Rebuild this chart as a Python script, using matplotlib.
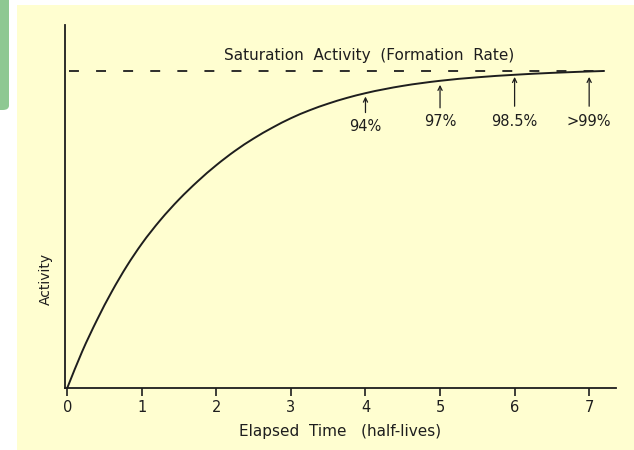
import numpy as np
import matplotlib.pyplot as plt
from matplotlib.patches import Rectangle, FancyBboxPatch, PathPatch
from matplotlib.path import Path

# curve (half-lives, fraction of saturation)
curve_t = [0, 0.2, 0.4, 0.6, 0.8, 1.0, 1.25, 1.5, 1.75, 2.0, 2.25, 2.5, 2.75,
           3.0, 3.25, 3.5, 3.75, 4.0, 4.5, 5.0, 5.5, 6.0, 6.5, 7.2]
curve_v = [0, 0.115, 0.215, 0.305, 0.385, 0.455, 0.53, 0.595, 0.652, 0.703, 0.748,
           0.787, 0.821, 0.851, 0.876, 0.897, 0.915, 0.930, 0.953, 0.969, 0.980,
           0.988, 0.994, 1.0]
saturation = 1.0

tick_pos = [0, 1, 2, 3, 4, 5, 6, 7]
tick_labels = ['0', '1', '2', '3', '4', '5', '6', '7']
mark_t = [4, 5, 6, 7]
mark_tip = [0.928, 0.965, 0.99, 0.99]
mark_tail = [0.86, 0.875, 0.88, 0.88]
mark_text = ['94%', '97%', '98.5%', '>99%']
mark_text_y = [0.825, 0.84, 0.84, 0.84]

ink = '#1e1e1e'


def smooth_path(xs, ys):
    # cubic hermite through the points (slopes from neighbours), as beziers
    x = np.asarray(xs, float)
    y = np.asarray(ys, float)
    m = np.gradient(y, x)
    m[0] = (y[1] - y[0]) / (x[1] - x[0])
    m[-1] = (y[-1] - y[-2]) / (x[-1] - x[-2])
    verts = [(x[0], y[0])]
    codes = [Path.MOVETO]
    for i in range(len(x) - 1):
        h = x[i + 1] - x[i]
        verts += [(x[i] + h / 3, y[i] + m[i] * h / 3),
                  (x[i + 1] - h / 3, y[i + 1] - m[i + 1] * h / 3),
                  (x[i + 1], y[i + 1])]
        codes += [Path.CURVE4] * 3
    return Path(verts, codes)


fig = plt.figure(figsize=(6.34, 4.5), dpi=100)
fig.patch.set_facecolor('white')
fig.patches.append(Rectangle((17 / 634, 0), 1, 445 / 450, transform=fig.transFigure,
                             facecolor='#fffed0', edgecolor='none', zorder=-10))
fig.patches.append(FancyBboxPatch((-0.02, 340 / 450), 9 / 634 + 0.02, 0.3,
                                  boxstyle='round,pad=0,rounding_size=0.01',
                                  transform=fig.transFigure, facecolor='#8ec892',
                                  edgecolor='none', zorder=-10))

ax = fig.add_axes([65 / 634, 62 / 450, (616 - 65) / 634, (388 - 25) / 450])
ax.set_facecolor('none')

ax.add_patch(PathPatch(smooth_path(curve_t, curve_v), facecolor='none', edgecolor=ink,
                       lw=1.4, capstyle='round'))
ax.plot([0.03, curve_t[-1]], [saturation, saturation], color=ink, lw=1.3, dashes=(5.5, 9.5))

ax.text(4.05, 1.025, 'Saturation  Activity  (Formation  Rate)', ha='center', va='bottom',
        fontsize=11, color=ink)

for x, tip, tail, s, ty in zip(mark_t, mark_tip, mark_tail, mark_text, mark_text_y):
    ax.annotate('', xy=(x, tip), xytext=(x, tail),
                arrowprops=dict(arrowstyle='->,head_length=0.3,head_width=0.15', color=ink, lw=0.9))
    ax.text(x, ty, s, ha='center', va='center', fontsize=10.5, color=ink)

ax.set_xlim(-0.03, 7.36)
ax.set_ylim(0, 1.145)
ax.spines['top'].set_visible(False)
ax.spines['right'].set_visible(False)
for sp in ['left', 'bottom']:
    ax.spines[sp].set_color(ink)
    ax.spines[sp].set_linewidth(1.3)
ax.set_yticks([])
ax.set_xticks(tick_pos)
ax.set_xticklabels(tick_labels, fontsize=10.5, color=ink)
ax.tick_params(axis='x', direction='out', length=6, width=1.2, color=ink, pad=3)
ax.set_xlabel('Elapsed  Time   (half-lives)', fontsize=11, color=ink, labelpad=6)
ax.set_ylabel('Activity', fontsize=10, color=ink)
ax.yaxis.set_label_coords(-0.022, 0.3)

fig.savefig('out.png', dpi=100)
